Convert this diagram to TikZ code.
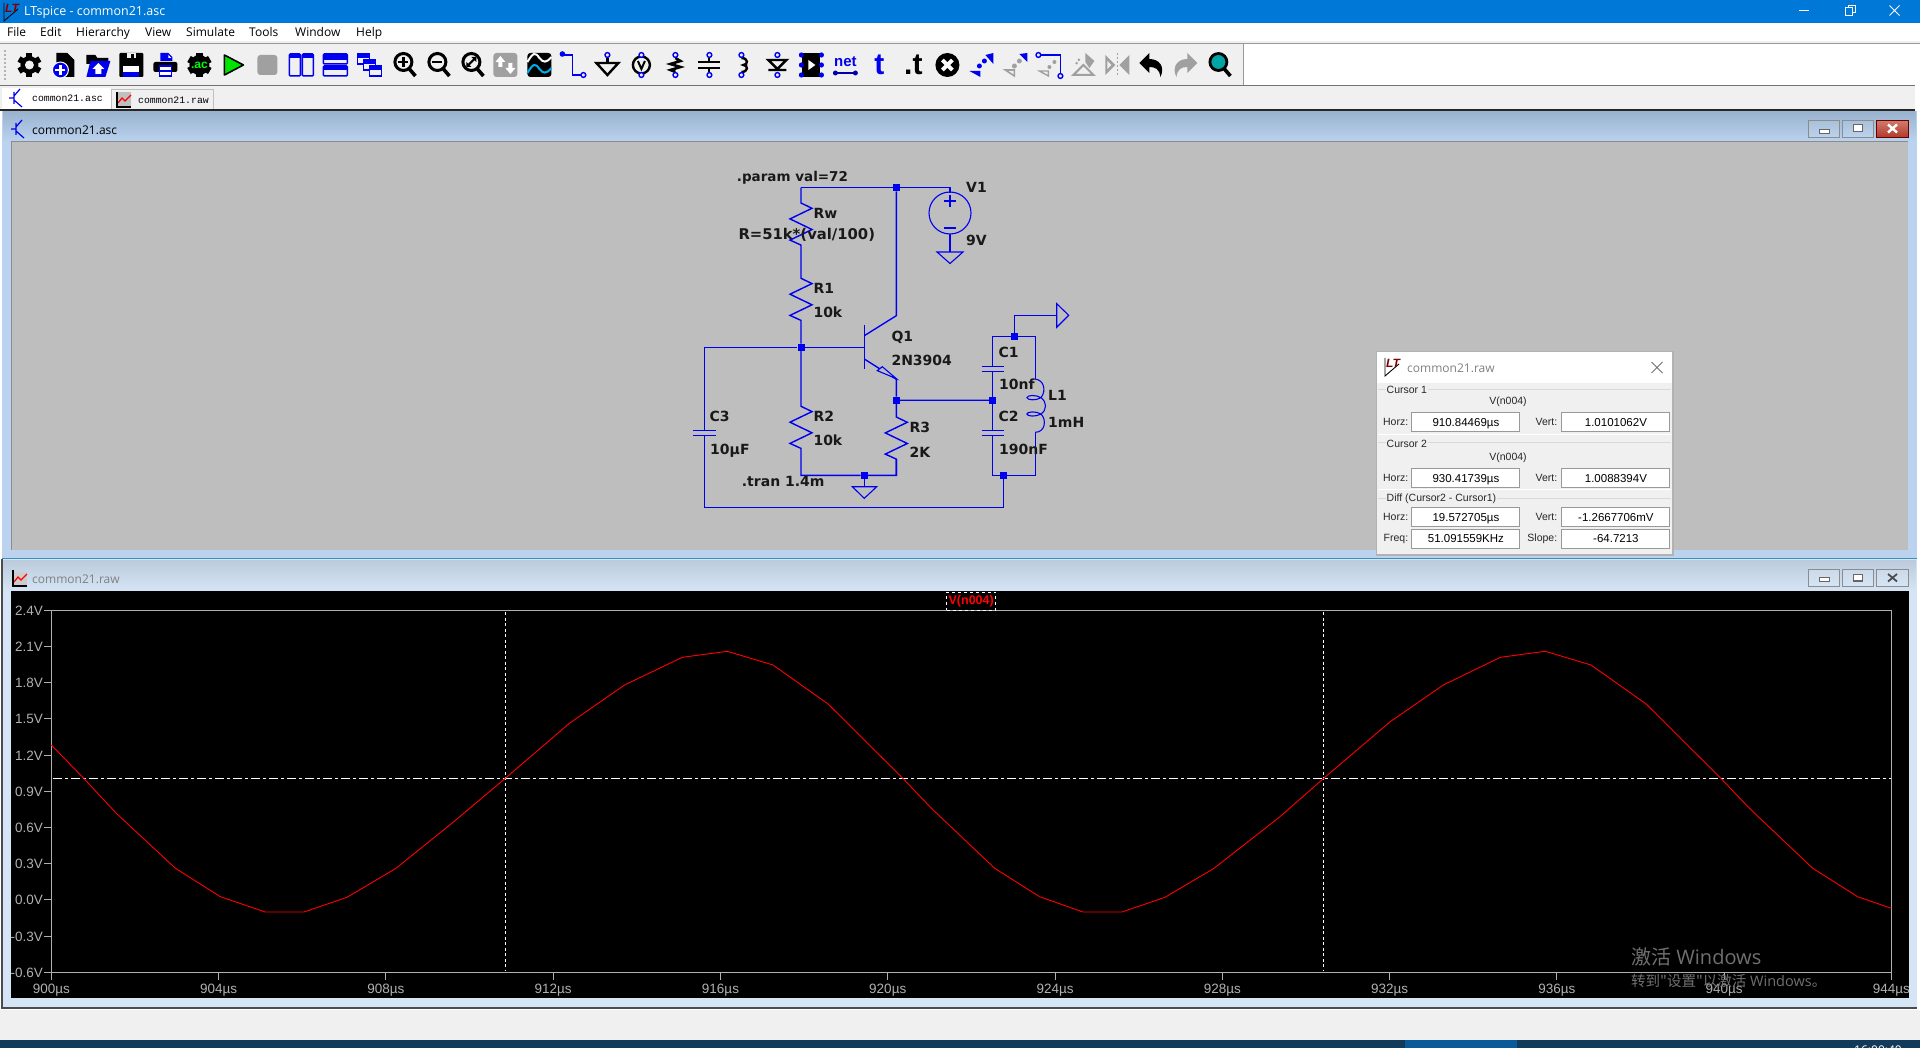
\documentclass[tikz,border=0pt]{standalone}
\usepackage{fontspec}
\setmainfont{Liberation Sans}
\newfontfamily\uifont{Open Sans}
\newfontfamily\schfont{DejaVu Sans}
\newfontfamily\tabfont{Liberation Mono}
\newfontfamily\cjk{Noto Sans CJK SC}
\usetikzlibrary{positioning}

\definecolor{title_blue}{HTML}{0078D7}
\definecolor{bar_bg}{HTML}{F0F0F0}
\definecolor{canvas_bg}{HTML}{BEBEBE}
\definecolor{wire_blue}{HTML}{0000F0}
\definecolor{icon_blue}{HTML}{0000F0}
\definecolor{icon_gray}{HTML}{A0A0A0}
\definecolor{plot_gray}{HTML}{B0B0B0}
\definecolor{frame_blue}{HTML}{D6E5F5}
\definecolor{band_blue}{HTML}{BBD3EE}
\definecolor{head_top}{HTML}{9AB3CF}
\definecolor{head2_top}{HTML}{BBCBDC}
\definecolor{btn_top}{HTML}{A9C0DA}
\definecolor{btn2_top}{HTML}{CBD9E8}
\definecolor{close_top}{HTML}{D27A6C}
\definecolor{close_bot}{HTML}{B0392B}
\definecolor{trace_red}{HTML}{FF0000}
\definecolor{note_gray}{HTML}{707070}
\definecolor{task_dark}{HTML}{123A5A}
\definecolor{task_light}{HTML}{0A5A9A}

\newcommand{\pxs}[1]{\fontsize{#1}{#1}\selectfont}
\newcommand{\rzig}{-- ++(11,5.3) -- ++(-22,10.6) -- ++(22,10.6) -- ++(-22,10.6) -- ++(11,5)}
\newcommand{\icon}[2]{\begin{scope}[shift={({29.4+34*#1},65)}]#2\end{scope}}
\newcommand{\pin}[2]{\draw[icon_blue, line width=1.4pt, fill=bar_bg] (#1,#2) circle (2.4pt);}
\newcommand{\transglyph}[2]{\draw[icon_blue, line width=1.2pt] (#1-4,#2-6) -- (#1-4,#2+6) (#1-9,#2) -- (#1-4,#2) (#1-4,#2-2) -- (#1+2,#2-9) (#1-4,#2+2) -- (#1+4,#2+9);}
\newcommand{\ltlogo}[3]{\draw[black, line width=0.9pt] (#1-7,#2-9) -- (#1-7,#2+9) -- (#1+7,#2-3);
    \node[font=\bfseries\itshape\pxs{12}, text=red!50!black, inner sep=0pt] (#3) at (#1+1,#2-4) {LT};}

\begin{document}
\begin{tikzpicture}[
        x=1pt,
        y=-1pt,
        wire/.style={draw=wire_blue, line width=1.4pt, line join=miter},
        thin_wire/.style={draw=wire_blue, line width=1.1pt},
        junction/.style={rectangle, fill=wire_blue, inner sep=0pt, minimum size=7pt},
        part_label/.style={anchor=base west, inner sep=0pt, font=\schfont\bfseries\pxs{14}, text=black!90},
        menu_item/.style={anchor=base west, inner sep=0pt, font=\uifont\pxs{12}, text=black},
        axis_line/.style={draw=plot_gray, line width=1pt},
        axis_label/.style={inner sep=0pt, font=\pxs{13.5}, text=plot_gray, text height=10pt, text depth=0pt},
        cursor_line/.style={draw=white, line width=1.2pt},
        dialog_label/.style={inner sep=0pt, font=\pxs{10.5}, text=black!85},
        group_label/.style={inner sep=1pt, anchor=west, fill=bar_bg, font=\pxs{10.5}, text=black!85},
        value_box/.style={rectangle, draw=black!40, fill=white, line width=1pt, inner sep=0pt, minimum width=108pt, minimum height=19pt, font=\pxs{11.5}, text=black, text height=8.2pt, text depth=0pt},
        icon_text/.style={inner sep=0pt, font=\bfseries\pxs{15}}
    ]
    \useasboundingbox (0,0) rectangle (1920,1048);
    \fill[white] (0,0) rectangle (1920,1048);

    % Main window bars
    \fill[title_blue] (0,0) rectangle (1920,23);
    \ltlogo{11}{12}{main_logo}
    \node[anchor=west, inner sep=0pt, font=\uifont\pxs{12.5}, text=white] (main_title) at (24,12.5) {LTspice - common21.asc};
    \draw[white, line width=1pt] (1799,10.5) -- (1809,10.5);
    \draw[white, line width=1pt] (1845,8) rectangle (1852,16) (1848,8) -- (1848,5.5) -- (1855,5.5) -- (1855,13) -- (1852,13);
    \draw[white, line width=1pt] (1889.5,5.5) -- (1899.5,15.5) (1899.5,5.5) -- (1889.5,15.5);
    \node[menu_item] (menu_file) at (7,37) {File};
    \node[menu_item] (menu_edit) at (40,37) {Edit};
    \node[menu_item] (menu_hierarchy) at (76,37) {Hierarchy};
    \node[menu_item] (menu_view) at (145,37) {View};
    \node[menu_item] (menu_simulate) at (186,37) {Simulate};
    \node[menu_item] (menu_tools) at (249,37) {Tools};
    \node[menu_item] (menu_window) at (295,37) {Window};
    \node[menu_item] (menu_help) at (356,37) {Help};
    \fill[bar_bg] (0,41) rectangle (1920,43);
    \fill[bar_bg] (0,43) rectangle (1243,85);
    \draw[black!40, line width=1pt] (0,43.5) -- (1920,43.5) (1243,43.5) -- (1243,85);
    \draw[black!55, line width=1pt] (0,85.5) -- (1915,85.5);
    \draw[black!30, line width=1.5pt, dash pattern=on 2pt off 2pt] (5,50) -- (5,82);

    % Toolbar icons
    \icon{0}{\foreach \a in {0,60,120} {\fill[black, rotate=\a] (-3,-12) rectangle (3,12);}
        \fill[black] (0,0) circle (9pt); \fill[bar_bg] (0,0) circle (4.5pt);}
    \icon{1}{\fill[black] (-7,-12) -- (4,-12) -- (11,-5) -- (11,12) -- (-7,12) -- cycle;
        \fill[bar_bg] (5,-12) -- (11,-12) -- (11,-6) -- cycle;
        \filldraw[draw=white, fill=icon_blue, line width=1pt] (-3,5) circle (8pt);
        \draw[white, line width=2.5pt] (-8,5) -- (2,5) (-3,0) -- (-3,10);}
    \icon{2}{\fill[black] (-11,-10) -- (-2,-10) -- (0,-7) -- (11,-7) -- (11,-1) -- (-11,-1) -- cycle;
        \fill[icon_blue] (-7,-4) -- (13,-4) -- (8,12) -- (-11,12) -- cycle;
        \fill[white] (1,-2) -- (7,4) -- (4,4) -- (4,9) -- (-2,9) -- (-2,4) -- (-5,4) -- cycle;}
    \icon{3}{\fill[black, rounded corners=1pt] (-12,-12) rectangle (12,12);
        \fill[bar_bg] (-4,-12) rectangle (5,-7); \fill[black] (0,-11) rectangle (3,-7);
        \fill[white] (-8,1) rectangle (8,7); \fill[icon_blue] (-8,7) rectangle (8,12);}
    \icon{4}{\fill[icon_blue] (-5,-12) -- (3,-12) -- (7,-8) -- (7,-4) -- (-5,-4) -- cycle;
        \fill[white] (3,-10) -- (6,-7) -- (3,-7) -- cycle;
        \fill[black, rounded corners=2pt] (-12,-3) rectangle (12,7);
        \filldraw[fill=white, draw=icon_blue, line width=1.4pt] (-6,1) rectangle (6,11);
        \draw[icon_blue, line width=1.4pt] (-6,6) -- (6,6);}
    \icon{5}{\foreach \a in {0,60,120} {\fill[black, rotate=\a] (-3.5,-12) rectangle (3.5,12);}
        \fill[black] (0,0) circle (10pt);
        \node[icon_text, text=green, font=\bfseries\pxs{12}] (icon_ac) at (0,0) {.ac};}
    \icon{6}{\filldraw[draw=black, fill=green!90!black, line width=1.6pt, line join=round] (-9,-10) -- (10,0) -- (-9,10) -- cycle;}
    \icon{7}{\fill[icon_gray, rounded corners=3pt] (-10,-10) rectangle (10,10);}
    \icon{8}{\filldraw[draw=icon_blue, fill=bar_bg, line width=1.5pt, rounded corners=1pt] (-12,-11) rectangle (-1,11) (1,-11) rectangle (12,11);
        \fill[icon_blue] (-12,-11) rectangle (-1,-7) (1,-11) rectangle (12,-7);}
    \icon{9}{\filldraw[draw=icon_blue, fill=bar_bg, line width=1.5pt, rounded corners=1pt] (-12,-11) rectangle (12,-1) (-12,1) rectangle (12,11);
        \fill[icon_blue] (-12,-11) rectangle (12,-5) (-12,1) rectangle (12,5);}
    \icon{10}{\foreach \d in {0,6,12} {\filldraw[draw=icon_blue, fill=bar_bg, line width=1.5pt] (-12+\d,-11+\d) rectangle (0+\d,-1+\d);
        \fill[icon_blue] (-12+\d,-11+\d) rectangle (0+\d,-7+\d);}}
    \foreach \n in {11,12,13} {
        \icon{\n}{\draw[black, line width=3pt] (0,-3) circle (8.5pt); \draw[black, line width=3.6pt] (6,4) -- (12,11);}
    }
    \icon{11}{\draw[black, line width=2.6pt] (-5,-3) -- (5,-3) (0,-8) -- (0,2);}
    \icon{12}{\draw[black, line width=2.6pt] (-5,-3) -- (5,-3);}
    \icon{13}{\draw[black, line width=2pt] (-4,1) -- (4,-7); \fill[black] (5,-8) -- (5,-3) -- (0,-8) -- cycle (-5,2) -- (-5,-3) -- (0,2) -- cycle;}
    \icon{14}{\fill[icon_gray, rounded corners=3pt] (-12,-12) rectangle (12,12);
        \fill[white] (-5,-9) -- (0,-3) -- (-3,-3) -- (-3,2) -- (-7,2) -- (-7,-3) -- (-10,-3) -- cycle
            (5,9) -- (0,3) -- (3,3) -- (3,-2) -- (7,-2) -- (7,3) -- (10,3) -- cycle;}
    \icon{15}{\fill[black, rounded corners=3pt] (-12,-12) rectangle (12,12);
        \draw[white, line width=2pt] (-12,-3) .. controls (-6,-13) and (-4,-13) .. (0,-7) .. controls (4,-2) and (7,-2) .. (12,-8);
        \draw[cyan, line width=2pt] (-12,8) .. controls (-6,-2) and (-4,-2) .. (0,4) .. controls (4,9) and (7,9) .. (12,3);}
    \icon{16}{\draw[icon_blue, line width=1.8pt] (-10,-10) -- (-1,-10) -- (-1,10) -- (9,10);
        \fill[icon_blue] (-11,-11) circle (2.8pt); \pin{10}{10}}
    \icon{17}{\draw[black, line width=2.6pt] (0,-7) -- (0,-2); \draw[black, line width=2.4pt, line join=miter] (-11,-2) -- (11,-2) -- (0,10) -- cycle; \pin{0}{-10}}
    \icon{18}{\draw[black, line width=2.4pt] (0,0) circle (8.5pt);
        \draw[black, line width=2pt] (-3.5,-4) -- (0,4) -- (3.5,-4); \pin{0}{-10} \pin{0}{10}}
    \icon{19}{\draw[black, line width=2.6pt] (0,-7) -- (5,-4) -- (-5,-1) -- (5,2) -- (-5,5) -- (0,7); \pin{0}{-10} \pin{0}{10}}
    \icon{20}{\draw[black, line width=2.6pt] (-11,-3) -- (11,-3) (-11,3) -- (11,3); \draw[black, line width=2pt] (0,-7) -- (0,-3) (0,3) -- (0,7); \pin{0}{-10} \pin{0}{10}}
    \icon{21}{\draw[black, line width=2.4pt] (-2,-7) .. controls (5,-7) and (5,0) .. (0,0) .. controls (5,0) and (5,7) .. (-2,7); \pin{-2}{-10} \pin{-2}{10}}
    \icon{22}{\draw[black, line width=2.4pt, line join=miter] (-9,-5) -- (9,-5) -- (0,4) -- cycle (-9,5) -- (9,5); \pin{0}{-10} \pin{0}{10}}
    \icon{23}{\fill[black] (-9,-12) rectangle (9,12); \fill[white] (-3,-5) -- (4,0) -- (-3,5) -- cycle;
        \foreach \py in {-10,0,10} {\fill[icon_blue] (-10,\py) circle (2.6pt) (10,\py) circle (2.6pt);}}
    \icon{24}{\node[icon_text, text=icon_blue, font=\bfseries\pxs{15}] (icon_net) at (0,-3) {net};
        \draw[icon_blue!70!black, line width=2pt] (-10,8) -- (10,8); \fill[icon_blue!70!black] (-10,8) circle (2.5pt) (10,8) circle (2.5pt);}
    \icon{25}{\node[icon_text, text=icon_blue, font=\bfseries\pxs{30}] (icon_t) at (0,0) {t};}
    \icon{26}{\node[icon_text, text=black, font=\bfseries\pxs{30}] (icon_dot_t) at (0,0) {.t};}
    \icon{27}{\fill[black] (0,0) circle (12pt); \draw[white, line width=4pt] (-5,-5) -- (5,5) (5,-5) -- (-5,5);}
    \icon{28}{\fill[icon_blue] (-12,6) -- (-1,6) -- (-1,12) -- cycle; \fill[icon_blue] (12,-12) -- (12,-1) -- (4,-10) -- cycle;
        \fill[icon_blue] (-2,1) circle (2.5pt) (3,-4) circle (2.5pt);}
    \icon{29}{\draw[icon_gray, line width=1.6pt] (-10,5) -- (-1,5) -- (-1,11) -- cycle;
        \fill[icon_blue] (12,-12) -- (12,-3) -- (4,-11) -- cycle; \fill[icon_gray] (-1,1) circle (2.5pt) (4,-4) circle (2.5pt);}
    \icon{30}{\draw[icon_blue, line width=1.6pt] (-9,-10) -- (11,-10) -- (11,9); \pin{-11}{-10} \pin{11}{11}
        \draw[icon_gray, line width=1.4pt] (-10,6) -- (-1,6) -- (-1,11) -- cycle; \fill[icon_gray] (0,2) circle (2pt) (5,-3) circle (2pt);}
    \icon{31}{\fill[icon_gray] (2,-12) -- (11,-4) -- (6,3) -- (2,-3) -- cycle;
        \draw[icon_gray, line width=2pt] (-10,10) -- (10,10) -- (0,0) -- cycle;
        \draw[icon_gray, line width=2pt, dash pattern=on 2pt off 2pt] (-4,-6) -- (-8,0);}
    \icon{32}{\fill[icon_gray] (-12,-10) -- (-2,0) -- (-12,10) -- cycle (12,-10) -- (2,0) -- (12,10) -- cycle;
        \fill[bar_bg] (-10,-4) -- (-6,0) -- (-10,4) -- cycle;
        \draw[icon_gray, line width=1.2pt, dash pattern=on 2pt off 2pt] (0,-12) -- (0,12);}
    \icon{33}{\fill[black] (-12,-2) -- (-2,-12) -- (-2,-6) .. controls (8,-6) and (14,2) .. (9,12) .. controls (8,4) and (4,2) .. (-2,2) -- (-2,8) -- cycle;}
    \icon{34}{\fill[icon_gray] (12,-2) -- (2,-12) -- (2,-6) .. controls (-8,-6) and (-14,2) .. (-9,12) .. controls (-8,4) and (-4,2) .. (2,2) -- (2,8) -- cycle;}
    \icon{35}{\filldraw[draw=black, fill=teal!70!cyan, line width=2.8pt] (-1,-3) circle (8.5pt); \draw[black, line width=3.6pt] (5,4) -- (11,11);}

    % Tab strip
    \fill[bar_bg] (0,86) rectangle (1915,110);
    \fill[white] (2,88) rectangle (111,110);
    \draw[black!25, line width=0.8pt] (111,89) rectangle (213,110);
    \draw[black!85, line width=1.2pt] (0,110) -- (1915,110);
    \transglyph{18}{98}
    \node[anchor=west, inner sep=0pt, font=\tabfont\pxs{9.8}, text=black] (tab_asc) at (32,98.5) {common21.asc};
    \fill[black!25] (117,92) rectangle (131,106);
    \draw[red, line width=1.2pt] (118,103) -- (122,98) -- (125,101) -- (131,95);
    \draw[black, line width=1.2pt] (117,92) -- (117,107) -- (131,107);
    \node[anchor=west, inner sep=0pt, font=\tabfont\pxs{9.8}, text=black] (tab_raw) at (138,100) {common21.raw};

    % Schematic window
    \fill[band_blue] (2,111) rectangle (1917,558);
    \draw[cyan!70!black, line width=1pt] (2,558) -- (1917,558);
    \shade[top color=head_top, bottom color=band_blue] (3,112) rectangle (1916,142);
    \fill[canvas_bg] (11,142) rectangle (1908,550);
    \draw[black!45, line width=1pt] (11,141.5) -- (1908,141.5) (11,142) -- (11,550);
    \transglyph{20}{129}
    \node[anchor=west, inner sep=0pt, font=\uifont\pxs{12}, text=black] (sch_title) at (32,130) {common21.asc};
    \shade[top color=btn_top, bottom color=band_blue, draw=black!45] (1808.5,120.5) rectangle (1839.5,137.5);
    \shade[top color=btn_top, bottom color=band_blue, draw=black!45] (1842.5,120.5) rectangle (1873.5,137.5);
    \shade[top color=close_top, bottom color=close_bot, draw=black!60!red] (1876.5,120.5) rectangle (1908,137.5);
    \draw[fill=white, draw=black!60] (1819,129) rectangle (1829,133);
    \draw[fill=white, draw=black!60, line width=1.4pt] (1853.5,124.5) rectangle (1862.5,131.5);
    \draw[white, line width=2.4pt] (1888,124.5) -- (1897,132.5) (1897,124.5) -- (1888,132.5);

    % Junctions
    \node[junction] (j_top) at (896.3,187.7) {};
    \node[junction] (j_base) at (801,347.3) {};
    \node[junction] (j_emitter) at (896.3,400.3) {};
    \node[junction] (j_tap) at (992.7,400.3) {};
    \node[junction] (j_gnd) at (864.3,475.3) {};
    \node[junction] (j_tank_top) at (1014.3,336.3) {};
    \node[junction] (j_tank_bot) at (1003.3,475.3) {};

    % Corner points of the wires
    \coordinate (top_left) at (801,187.7);
    \coordinate (v1_top) at (950,187.7);
    \coordinate (v1_gnd) at (950,252);
    \coordinate (r1_top) at (801,278.3);
    \coordinate (r2_top) at (801,406.3);
    \coordinate (bot_left) at (801,475.3);
    \coordinate (bot_right) at (896.3,475.3);
    \coordinate (r3_top) at (896.3,417);
    \coordinate (q_collector) at (896.3,315.7);
    \coordinate (q_emitter) at (896.3,379.3);
    \coordinate (q_base) at (864.3,347.3);
    \coordinate (c3_corner) at (704.3,347.3);
    \coordinate (c3_low) at (704.3,507.3);
    \coordinate (low_right) at (1003.3,507.3);
    \coordinate (tank_tl) at (992.7,336.3);
    \coordinate (tank_tr) at (1035.3,336.3);
    \coordinate (tank_bl) at (992.7,475.3);
    \coordinate (tank_br) at (1035.3,475.3);
    \coordinate (flag_up) at (1014.3,315.3);
    \coordinate (flag_pin) at (1056.7,315.3);

    % Resistors and main wires
    \draw[wire] (top_left) -- (j_top) -- (v1_top) -- ++(0,5);
    \draw[wire] (top_left) -- ++(0,15.3) \rzig -- (r1_top) \rzig -- (j_base);
    \draw[wire] (j_base) -- (r2_top) \rzig -- (bot_left) -- (j_gnd) -- (bot_right) -- ++(0,-16);
    \draw[wire] (j_emitter) -- (r3_top) \rzig -- (bot_right);
    \draw[wire] (j_top) -- (q_collector) -- (864.3,335.7);
    \draw[wire] (864.3,325) -- (864.3,369);
    \draw[wire] (c3_corner) -- (j_base) -- (q_base);
    \draw[wire] (864.3,359) -- (q_emitter) -- (j_emitter) -- (j_tap);
    \draw[thin_wire, fill=canvas_bg] (896.3,378.6) -- (877.3,370.7) -- (882.3,366.7) -- cycle;

    % Source V1
    \draw[thin_wire] (950,213) circle (21pt);
    \draw[thin_wire] (944,201) -- (956,201) (950,195) -- (950,207) (944,228) -- (956,228);
    \draw[wire] (950,234) -- (v1_gnd);
    \draw[thin_wire, line join=miter] (937,252) -- (963,252) -- (950,263.5) -- cycle;

    % Capacitors
    \draw[wire] (c3_corner) -- (704.3,430.7) (704.3,435.7) -- (c3_low) -- (low_right) -- (j_tank_bot);
    \draw[wire] (693.3,430.7) -- (715.7,430.7) (693.3,435.7) -- (715.7,435.7);
    \draw[wire] (tank_tl) -- (992.7,366.3) (992.7,371.3) -- (j_tap) -- (992.7,430.3) (992.7,435.3) -- (tank_bl) -- (j_tank_bot) -- (tank_br) -- (1035.3,432.3);
    \draw[wire] (981.7,366.3) -- (1004,366.3) (981.7,371.3) -- (1004,371.3) (981.7,430.3) -- (1004,430.3) (981.7,435.3) -- (1004,435.3);
    \draw[wire] (tank_tl) -- (j_tank_top) -- (tank_tr) -- (1035.3,379.3);
    \draw[wire] (j_tank_top) -- (flag_up) -- (flag_pin);
    \draw[thin_wire, line join=miter] (1056.7,303.7) -- (1056.7,327.3) -- (1068.7,315.3) -- cycle;

    % Ground under R2 and R3
    \draw[wire] (j_gnd) -- (864.3,486.7);
    \draw[thin_wire, line join=miter] (852.3,486.7) -- (876.7,486.7) -- (864.3,498.3) -- cycle;

    % Inductor L1
    \draw[thin_wire] (1035.3,379.3) .. controls (1043,379.3) and (1047,390) .. (1041,397.7)
        .. controls (1036,401) and (1027,400) .. (1027,397.7) .. controls (1027,395) and (1036,394.5) .. (1041,397.7)
        .. controls (1047,402) and (1047,410) .. (1041,414)
        .. controls (1036,417) and (1027,416.5) .. (1027,414) .. controls (1027,411.5) and (1036,411) .. (1041,414)
        .. controls (1047,420) and (1045,432.3) .. (1035.3,432.3);

    % Part labels
    \node[part_label, font=\schfont\bfseries\pxs{13.5}] (param_text) at (736.7,181.7) {.param val=72};
    \node[part_label] (v1_name) at (966,192.7) {V1};
    \node[part_label] (v1_value) at (966,246) {9V};
    \node[part_label] (rw_name) at (813.3,219) {Rw};
    \node[part_label, font=\schfont\bfseries\pxs{14.8}] (rw_value) at (738.3,240) {R=51k*(val/100)};
    \node[part_label] (r1_name) at (813.3,294) {R1};
    \node[part_label] (r1_value) at (813.3,318) {10k};
    \node[part_label] (q1_name) at (891.3,342) {Q1};
    \node[part_label] (q1_value) at (891.3,366) {2N3904};
    \node[part_label] (c1_name) at (998.3,358) {C1};
    \node[part_label] (c1_value) at (999,390) {10nf};
    \node[part_label] (l1_name) at (1048,401) {L1};
    \node[part_label] (l1_value) at (1048,428) {1mH};
    \node[part_label] (c2_name) at (998.3,422) {C2};
    \node[part_label] (c2_value) at (999,454) {190nF};
    \node[part_label] (c3_name) at (709.3,422) {C3};
    \node[part_label] (c3_value) at (710,454) {10µF};
    \node[part_label] (r2_name) at (813.3,422) {R2};
    \node[part_label] (r2_value) at (813.3,446) {10k};
    \node[part_label] (r3_name) at (909.3,433) {R3};
    \node[part_label] (r3_value) at (909.3,457) {2K};
    \node[part_label] (tran_text) at (741.7,486) {.tran 1.4m};

    % Waveform window
    \fill[frame_blue] (2,559) rectangle (1917,1008);
    \draw[black!70, line width=1.2pt] (2,559) -- (2,1008) -- (1917,1008);
    \shade[top color=head2_top, bottom color=frame_blue] (3,560) rectangle (1916,591);
    \fill[black] (11,591) rectangle (1908.5,998.3);
    \fill[black!20] (13,572) rectangle (27,586);
    \draw[red, line width=1.2pt] (14,582) -- (18,577) -- (21,580) -- (27,574);
    \draw[black, line width=1.2pt] (13,570) -- (13,586) -- (27,586);
    \node[anchor=west, inner sep=0pt, font=\uifont\pxs{12}, text=black!50] (raw_title) at (32,579) {common21.raw};
    \shade[top color=btn2_top, bottom color=frame_blue, draw=black!45] (1808.5,569.5) rectangle (1839.5,586);
    \shade[top color=btn2_top, bottom color=frame_blue, draw=black!45] (1842.5,569.5) rectangle (1873.5,586);
    \shade[top color=btn2_top, bottom color=frame_blue, draw=black!45] (1876.5,569.5) rectangle (1908,586);
    \draw[fill=white, draw=black!60] (1819,577) rectangle (1829,581);
    \draw[fill=white, draw=black!60, line width=1.4pt] (1853.5,574.5) rectangle (1862.5,581);
    \draw[black!70, line width=1.8pt] (1888,574) -- (1897,581.5) (1897,574) -- (1888,581.5);

    % Plot axes
    \draw[axis_line] (51.4,610.3) rectangle (1891.4,972.3);
    \foreach \vlabel [count=\n from 0] in {2.4V,2.1V,1.8V,1.5V,1.2V,0.9V,0.6V,0.3V,0.0V,-0.3V,-0.6V} {
        \draw[axis_line] (44,610.3+36.2*\n) -- (51.4,610.3+36.2*\n);
        \node[axis_label, anchor=east] (ylabel_\n) at (43,610.3+36.2*\n) {\vlabel};
    }
    \foreach \tlabel [count=\n from 0] in {900,904,908,912,916,920,924,928,932,936,940,944} {
        \draw[axis_line] (51.4+167.27*\n,972.3) -- (51.4+167.27*\n,980);
        \node[axis_label] (xlabel_\n) at (51.4+167.27*\n,988.3) {\tlabel µs};
    }

    % Cursors
    \draw[cursor_line, dash pattern=on 3pt off 2.5pt] (505.3,612) -- (505.3,971);
    \draw[cursor_line, dash pattern=on 3pt off 2.5pt] (1323.5,612) -- (1323.5,971);
    \draw[cursor_line, dash pattern=on 9pt off 3pt on 3pt off 3pt] (53,778.3) -- (1891,778.3);

    % Trace V(n004)
    \draw[trace_red, line width=0.9pt, line join=round] (51.4,745) -- (83.7,778.3) -- (116.3,813.3) -- (175.5,868.3) -- (220.4,896.7) -- (265.3,912) -- (304,912)
        -- (347,897.3) -- (396,868.3) -- (451,824) -- (505.3,778.3) -- (569.4,723.3) -- (624.5,685) -- (682.4,657.3) -- (727.3,651.3)
        -- (773,665) -- (828.1,704) -- (855.9,731.7) -- (902.8,778.3) -- (931.4,808.3) -- (994.7,868.3) -- (1039.6,896.7) -- (1083,912) -- (1122,912)
        -- (1165,897.3) -- (1214,868.3) -- (1280,816.7) -- (1323.7,778.3) -- (1390.2,721.7) -- (1443.3,685) -- (1500.4,657.3) -- (1545.3,651.3)
        -- (1591,665) -- (1646.1,704) -- (1673.9,731.7) -- (1720.8,778.3) -- (1749.4,808.3) -- (1812.7,868.3) -- (1857.6,896.7) -- (1891.4,908.3);

    % Trace name
    \node[rectangle, fill=black, draw=white, dashed, line width=0.9pt, minimum width=49pt, minimum height=18pt, inner sep=0pt, font=\bfseries\pxs{12.5}, text=red] (trace_name) at (971.2,601) {V(n004)};

    % Activation note
    \node[anchor=west, inner sep=0pt, text=note_gray, font=\uifont\pxs{20}] (note_one) at (1631,956.7) {{\cjk 激活} Windows};
    \node[anchor=west, inner sep=0pt, text=note_gray, font=\uifont\pxs{14.5}] (note_two) at (1631,980.7) {{\cjk 转到"设置"以激活} Windows{\cjk 。}};

    % Cursor readout
    \fill[black!30] (1376,351) rectangle (1673.5,555.5);
    \fill[bar_bg] (1377.3,352.3) rectangle (1672.3,554.3);
    \fill[white] (1377.3,352.3) rectangle (1672.3,383);
    \ltlogo{1392}{367}{raw_logo}
    \node[anchor=west, inner sep=0pt, font=\uifont\pxs{12}, text=black!50] (dialog_title) at (1407,368) {common21.raw};
    \draw[black!55, line width=0.9pt] (1651.5,362) -- (1662.5,373) (1662.5,362) -- (1651.5,373);
    \draw[black!15, line width=1pt] (1378,390) -- (1671,390) (1378,443) -- (1671,443) (1378,498) -- (1671,498);
    \draw[white, line width=1pt] (1378,435) -- (1671,435) (1378,489.3) -- (1671,489.3);
    \node[group_label] (group_one) at (1385.5,390) {Cursor 1};
    \node[group_label] (group_two) at (1385.5,444) {Cursor 2};
    \node[group_label] (group_diff) at (1385.5,499) {Diff (Cursor2 - Cursor1)};
    \node[dialog_label] (trace_one) at (1508,401.7) {V(n004)};
    \node[dialog_label] (trace_two) at (1508,457.3) {V(n004)};
    \node[value_box] (horz_one) at (1465.9,422.2) {910.84469µs};
    \node[value_box] (vert_one) at (1615.9,422.2) {1.0101062V};
    \node[value_box] (horz_two) at (1465.9,478) {930.41739µs};
    \node[value_box] (vert_two) at (1615.9,478) {1.0088394V};
    \node[value_box] (horz_diff) at (1465.9,517) {19.572705µs};
    \node[value_box] (vert_diff) at (1615.9,517) {-1.2667706mV};
    \node[value_box] (freq_diff) at (1465.9,538.8) {51.091559KHz};
    \node[value_box] (slope_diff) at (1615.9,538.8) {-64.7213};
    \foreach \rowname/\rowtext in {horz_one/Horz:,horz_two/Horz:,horz_diff/Horz:,freq_diff/Freq:} {
        \node[dialog_label, anchor=east] (lbl_\rowname) at ([xshift=-3pt]\rowname.west) {\rowtext};
    }
    \foreach \rowname/\rowtext in {vert_one/Vert:,vert_two/Vert:,vert_diff/Vert:,slope_diff/Slope:} {
        \node[dialog_label, anchor=east] (lbl_\rowname) at ([xshift=-4pt]\rowname.west) {\rowtext};
    }

    % Bottom bars
    \fill[bar_bg] (0,1010) rectangle (1920,1040);
    \fill[task_dark] (0,1040) rectangle (1920,1048);
    \fill[task_light] (1404.5,1040) rectangle (1516.7,1048);
    \begin{scope}
        \clip (0,1040) rectangle (1920,1048);
        \node[anchor=base west, inner sep=0pt, font=\uifont\pxs{12}, text=white] (clock_text) at (1854,1054.5) {16:00:40};
    \end{scope}
\end{tikzpicture}
\end{document}
